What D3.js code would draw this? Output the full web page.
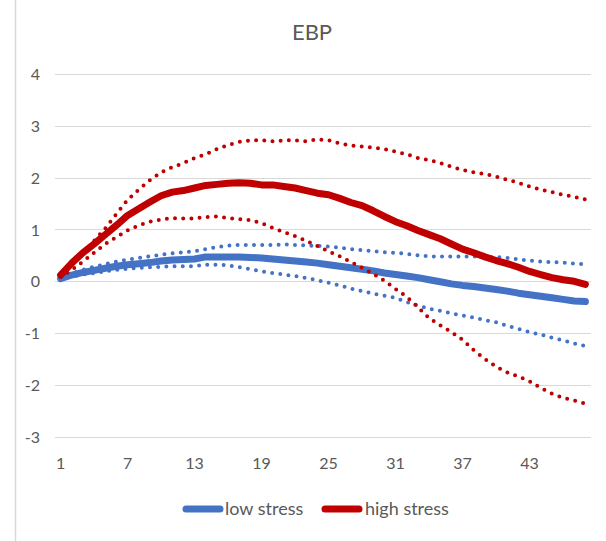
<!DOCTYPE html>
<html>
<head>
<meta charset="utf-8">
<script src="https://cdn.jsdelivr.net/npm/d3@7"></script>
<style>
html,body{margin:0;padding:0;background:#fff;}
svg{display:block;font-family:Lato,"Open Sans",sans-serif;}
</style>
</head>
<body>
<svg id="chart" width="606" height="541"></svg>
<script>
const periods = d3.range(1, 49);
const xTickLabels = [1, 7, 13, 19, 25, 31, 37, 43];
const yTickLabels = [-3, -2, -1, 0, 1, 2, 3, 4];

const highStress = [0.12,0.35,0.55,0.72,0.90,1.08,1.27,1.40,1.53,1.65,1.72,1.75,1.80,1.85,1.87,1.89,1.90,1.89,1.86,1.86,1.83,1.80,1.75,1.70,1.67,1.60,1.52,1.46,1.36,1.25,1.15,1.07,0.98,0.90,0.82,0.72,0.62,0.55,0.47,0.40,0.34,0.27,0.19,0.13,0.07,0.03,0.00,-0.06];
const highUpper = [0.10,0.33,0.55,0.78,1.02,1.30,1.57,1.77,1.95,2.10,2.20,2.28,2.38,2.45,2.55,2.63,2.69,2.72,2.72,2.70,2.72,2.72,2.70,2.74,2.72,2.66,2.62,2.60,2.58,2.55,2.50,2.45,2.38,2.34,2.28,2.21,2.15,2.10,2.07,2.02,1.96,1.90,1.83,1.77,1.72,1.67,1.63,1.58];
const highLower = [0.08,0.22,0.38,0.55,0.72,0.85,0.98,1.08,1.15,1.19,1.22,1.21,1.21,1.24,1.25,1.22,1.20,1.18,1.12,1.03,0.95,0.87,0.78,0.68,0.58,0.48,0.37,0.26,0.14,0.01,-0.15,-0.30,-0.50,-0.71,-0.85,-0.98,-1.13,-1.33,-1.50,-1.65,-1.76,-1.84,-1.93,-2.06,-2.17,-2.25,-2.30,-2.36];
const lowStress = [0.05,0.12,0.17,0.21,0.25,0.29,0.32,0.34,0.36,0.39,0.41,0.42,0.43,0.47,0.47,0.47,0.47,0.46,0.45,0.43,0.41,0.39,0.37,0.35,0.32,0.29,0.26,0.23,0.20,0.16,0.13,0.10,0.07,0.03,-0.01,-0.05,-0.08,-0.10,-0.13,-0.16,-0.19,-0.23,-0.26,-0.29,-0.32,-0.35,-0.38,-0.39];
const lowUpper = [0.08,0.15,0.22,0.28,0.33,0.38,0.42,0.45,0.48,0.51,0.54,0.56,0.58,0.62,0.66,0.69,0.70,0.70,0.70,0.70,0.71,0.70,0.69,0.68,0.67,0.65,0.62,0.60,0.58,0.56,0.55,0.53,0.50,0.48,0.48,0.48,0.48,0.48,0.47,0.47,0.45,0.42,0.40,0.38,0.37,0.36,0.34,0.33];
const lowLower = [0.05,0.09,0.13,0.16,0.19,0.22,0.24,0.26,0.27,0.28,0.29,0.29,0.29,0.32,0.32,0.31,0.27,0.23,0.19,0.16,0.13,0.10,0.06,0.02,-0.03,-0.08,-0.14,-0.19,-0.24,-0.28,-0.32,-0.40,-0.47,-0.53,-0.57,-0.62,-0.66,-0.70,-0.75,-0.79,-0.86,-0.92,-0.98,-1.03,-1.09,-1.14,-1.20,-1.25];

const seriesNames = ["low stress", "high stress"];
const colors = {"low stress": "#4472C4", "high stress": "#C00000"};

const svg = d3.select("#chart");
const W = 606, H = 541;
const plot = {left: 55, right: 591, top: 74, bottom: 436.7};

const x = d3.scaleBand().domain(periods).range([plot.left, plot.right]);
const xc = d => x(d) + x.bandwidth() / 2;
const y = d3.scaleLinear().domain([-3, 4]).range([plot.bottom, plot.top]);

// outer left border line
svg.append("line").attr("x1", 15.5).attr("x2", 15.5).attr("y1", 0).attr("y2", H)
  .attr("stroke", "#d9d9d9").attr("stroke-width", 1.5);

// title
svg.append("text").attr("x", 312).attr("y", 40).attr("text-anchor", "middle")
  .attr("font-size", 22).attr("fill", "#595959").text("EBP");

// gridlines
svg.append("g").selectAll("line").data(yTickLabels).join("line")
  .attr("x1", plot.left).attr("x2", plot.right)
  .attr("y1", d => Math.round(y(d)) + 0.5).attr("y2", d => Math.round(y(d)) + 0.5)
  .attr("stroke", "#d9d9d9").attr("stroke-width", 1.2);

// y axis labels
const yAxis = d3.axisLeft(y).tickValues(yTickLabels).tickSize(0).tickPadding(0).tickFormat(d => String(d));
const gy = svg.append("g").attr("transform", "translate(40,0)").call(yAxis);
gy.select(".domain").remove();
gy.selectAll("text").attr("font-size", 16).attr("fill", "#595959").attr("font-family", "Lato,'Open Sans',sans-serif").attr("dy", "0.35em");

// x axis labels
const xAxis = d3.axisBottom(x).tickValues(xTickLabels).tickSize(0).tickPadding(0);
const gx = svg.append("g").attr("transform", "translate(0,458)").call(xAxis);
gx.select(".domain").remove();
gx.selectAll("text").attr("font-size", 16).attr("fill", "#595959").attr("font-family", "Lato,'Open Sans',sans-serif").attr("dy", "0.71em");

const line = d3.line().x((d, i) => xc(periods[i])).y(d => y(d)).curve(d3.curveLinear);

function dotted(data, color) {
  svg.append("path").datum(data).attr("d", line).attr("fill", "none")
    .attr("stroke", color).attr("stroke-width", 4)
    .attr("stroke-linecap", "round").attr("stroke-dasharray", "0,8.2");
}
function solid(data, color) {
  svg.append("path").datum(data).attr("d", line).attr("fill", "none")
    .attr("stroke", color).attr("stroke-width", 7)
    .attr("stroke-linecap", "round").attr("stroke-linejoin", "round");
}

dotted(lowUpper, colors["low stress"]);
dotted(lowLower, colors["low stress"]);
solid(lowStress, colors["low stress"]);
dotted(highUpper, colors["high stress"]);
dotted(highLower, colors["high stress"]);
solid(highStress, colors["high stress"]);

// legend
const legendItems = [
  {name: seriesNames[0], x1: 186, x2: 220, tx: 225},
  {name: seriesNames[1], x1: 325, x2: 359, tx: 365}
];
const lg = svg.append("g");
legendItems.forEach(it => {
  lg.append("line").attr("x1", it.x1).attr("x2", it.x2).attr("y1", 509).attr("y2", 509)
    .attr("stroke", colors[it.name]).attr("stroke-width", 7).attr("stroke-linecap", "round");
  lg.append("text").attr("x", it.tx).attr("y", 515).attr("font-size", 18)
    .attr("fill", "#595959").text(it.name);
});
</script>
</body>
</html>
